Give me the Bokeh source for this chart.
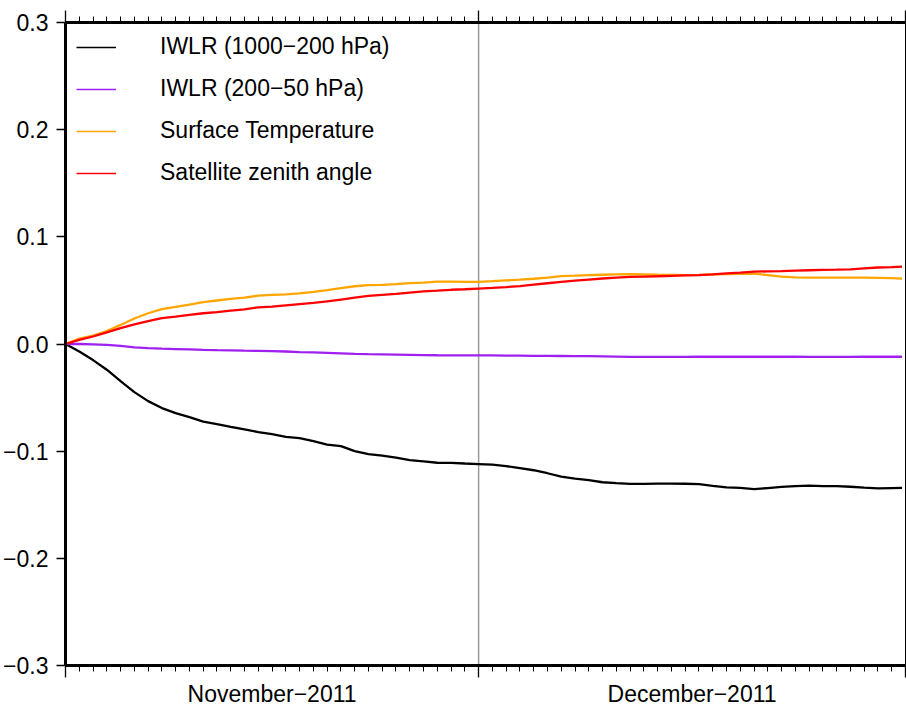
from datetime import datetime, timedelta

from bokeh.plotting import figure
from bokeh.models import (Range1d, LinearAxis, FixedTicker, Span, Legend,
                          LegendItem, ColumnDataSource)
from bokeh.embed import file_html
from bokeh.resources import INLINE

# ---------------- data ----------------
start = datetime(2011, 11, 1)
hours = list(range(0, 1441, 24)) + [1458]          # daily samples, Nov 1 .. Dec 31
dates = [start + timedelta(hours=h) for h in hours]

iwlr_low = [0, -0.0070, -0.0150, -0.0240, -0.0346, -0.0449, -0.0533, -0.0598, -0.0645, -0.0682,
            -0.0724, -0.0748, -0.0773, -0.0797, -0.0822, -0.0841, -0.0866, -0.0879, -0.0907, -0.0939,
            -0.0953, -0.1000, -0.1028, -0.1042, -0.1061, -0.1084, -0.1096, -0.1108, -0.1109, -0.1115,
            -0.1120, -0.1126, -0.1140, -0.1159, -0.1178, -0.1206, -0.1238, -0.1257, -0.1271, -0.1290,
            -0.1299, -0.1306, -0.1306, -0.1303, -0.1302, -0.1304, -0.1307, -0.1323, -0.1338, -0.1343,
            -0.1355, -0.1344, -0.1333, -0.1327, -0.1322, -0.1327, -0.1327, -0.1332, -0.1341, -0.1348,
            -0.1344, -0.1343]

iwlr_high = [0, 0, -0.0003, -0.0008, -0.0017, -0.0032, -0.0039, -0.0044, -0.0047, -0.0050,
             -0.0054, -0.0057, -0.0059, -0.0062, -0.0064, -0.0066, -0.0070, -0.0075, -0.0079, -0.0083,
             -0.0087, -0.0092, -0.0095, -0.0097, -0.0099, -0.0101, -0.0103, -0.0105, -0.0106, -0.0106,
             -0.0106, -0.0107, -0.0108, -0.0109, -0.0110, -0.0111, -0.0112, -0.0113, -0.0114, -0.0115,
             -0.0117, -0.0120, -0.0121, -0.0121, -0.0120, -0.0120, -0.0119, -0.0119, -0.0119, -0.0119,
             -0.0119, -0.0119, -0.0119, -0.0119, -0.0120, -0.0120, -0.0120, -0.0120, -0.0119, -0.0119,
             -0.0119, -0.0119]

surface_temp = [0, 0.0051, 0.0079, 0.0121, 0.0178, 0.0238, 0.0287, 0.0325, 0.0346, 0.0368,
                0.0391, 0.0406, 0.0421, 0.0433, 0.0451, 0.0458, 0.0464, 0.0473, 0.0486, 0.0503,
                0.0521, 0.0539, 0.0550, 0.0551, 0.0559, 0.0568, 0.0572, 0.0582, 0.0582, 0.0579,
                0.0580, 0.0586, 0.0593, 0.0600, 0.0609, 0.0620, 0.0634, 0.0638, 0.0643, 0.0646,
                0.0649, 0.0651, 0.0649, 0.0646, 0.0644, 0.0642, 0.0645, 0.0649, 0.0652, 0.0654,
                0.0656, 0.0643, 0.0628, 0.0621, 0.0620, 0.0620, 0.0620, 0.0620, 0.0620, 0.0617,
                0.0614, 0.0610]

zenith_angle = [0, 0.0039, 0.0070, 0.0108, 0.0148, 0.0184, 0.0213, 0.0241, 0.0256, 0.0272,
                0.0287, 0.0298, 0.0311, 0.0324, 0.0342, 0.0349, 0.0361, 0.0373, 0.0383, 0.0397,
                0.0415, 0.0432, 0.0449, 0.0458, 0.0467, 0.0479, 0.0491, 0.0498, 0.0506, 0.0511,
                0.0517, 0.0523, 0.0531, 0.0540, 0.0554, 0.0567, 0.0579, 0.0591, 0.0601, 0.0611,
                0.0619, 0.0626, 0.0629, 0.0632, 0.0636, 0.0640, 0.0642, 0.0650, 0.0659, 0.0666,
                0.0675, 0.0678, 0.0680, 0.0684, 0.0688, 0.0692, 0.0694, 0.0697, 0.0706, 0.0714,
                0.0718, 0.0722]

series_names = ["IWLR (1000\u2212200 hPa)", "IWLR (200\u221250 hPa)",
                "Surface Temperature", "Satellite zenith angle"]
series_colors = ["#000000", "#a020f0", "#ffa500", "#ff0000"]

month_starts = [datetime(2011, 11, 1), datetime(2011, 12, 1), datetime(2012, 1, 1)]
month_centers = [datetime(2011, 11, 16), datetime(2011, 12, 16, 12)]
month_labels = ["November\u22122011", "December\u22122011"]

y_ticks = [-0.3, -0.2, -0.1, 0.0, 0.1, 0.2, 0.3]
y_labels = ["\u22120.3", "\u22120.2", "\u22120.1", "0.0", "0.1", "0.2", "0.3"]

# ---------------- helpers ----------------
EPOCH = datetime(1970, 1, 1)


def ms(d):
    return (d - EPOCH).total_seconds() * 1000.0


FONT = "Liberation Sans, Arial, sans-serif"
FS = "23px"

day_ticks = [ms(start + timedelta(days=i)) for i in range(62)]

p = figure(width=906, height=709, output_backend="svg", toolbar_location=None,
           x_axis_type=None, y_axis_type=None,
           x_range=Range1d(ms(month_starts[0]), ms(month_starts[-1])),
           y_range=Range1d(-0.3, 0.3),
           min_border_left=64, min_border_right=1, min_border_top=22, min_border_bottom=44)
p.outline_line_color = "black"
p.outline_line_width = 1
p.background_fill_color = "white"
p.border_fill_color = "white"

# vertical separator at month start
p.add_layout(Span(location=ms(month_starts[1]), dimension="height",
                  line_color="#9a9a9a", line_width=1.5, level="underlay"))

src = ColumnDataSource(dict(x=[ms(d) for d in dates], a=iwlr_low, b=iwlr_high,
                            c=surface_temp, d=zenith_angle))
for col, color in zip(["a", "b", "c", "d"], series_colors):
    p.line("x", col, source=src, line_color=color, line_width=2.3)

# legend with thin sample lines (renderers holding a single empty point)
items = []
for name, color in zip(series_names, series_colors):
    r = p.line(x=[float("nan")], y=[float("nan")], line_color=color, line_width=1.3)
    items.append(LegendItem(label=name, renderers=[r]))
legend = Legend(items=items, location="top_left", margin=11, padding=0,
                glyph_width=40, glyph_height=20, label_height=20, label_standoff=44,
                spacing=15, border_line_color=None, background_fill_alpha=0,
                label_text_font=FONT, label_text_font_size=FS, label_text_color="black")
p.add_layout(legend)


def tick_axis():
    ax = LinearAxis(ticker=FixedTicker(ticks=[ms(d) for d in month_starts], minor_ticks=day_ticks))
    ax.axis_line_width = 3
    ax.axis_line_color = "black"
    ax.major_tick_out = 12
    ax.major_tick_in = 0
    ax.minor_tick_out = 6
    ax.minor_tick_in = 0
    ax.major_tick_line_width = 1.3
    ax.minor_tick_line_width = 1
    ax.major_label_overrides = {ms(d): "" for d in month_starts}
    ax.major_label_text_font_size = "0px"
    ax.major_label_standoff = 0
    return ax


p.add_layout(tick_axis(), "below")
p.add_layout(tick_axis(), "above")

lab_ax = LinearAxis(ticker=FixedTicker(ticks=[ms(d) for d in month_centers], minor_ticks=[]))
lab_ax.axis_line_color = None
lab_ax.major_tick_line_color = None
lab_ax.minor_tick_line_color = None
lab_ax.major_tick_out = 0
lab_ax.major_tick_in = 0
lab_ax.major_label_standoff = 3
lab_ax.major_label_overrides = {ms(d): t for d, t in zip(month_centers, month_labels)}
lab_ax.major_label_text_font = FONT
lab_ax.major_label_text_font_size = FS
lab_ax.major_label_text_color = "black"
p.add_layout(lab_ax, "below")

y_ax = LinearAxis(ticker=FixedTicker(ticks=y_ticks, minor_ticks=[]))
y_ax.axis_line_width = 3
y_ax.major_tick_out = 9
y_ax.major_tick_in = 0
y_ax.major_tick_line_width = 1.3
y_ax.major_label_standoff = 8
y_ax.major_label_overrides = {t: s for t, s in zip(y_ticks, y_labels)}
y_ax.major_label_text_font = FONT
y_ax.major_label_text_font_size = FS
y_ax.major_label_text_color = "black"
p.add_layout(y_ax, "left")

with open("out.html", "w") as f:
    f.write(file_html(p, INLINE))
